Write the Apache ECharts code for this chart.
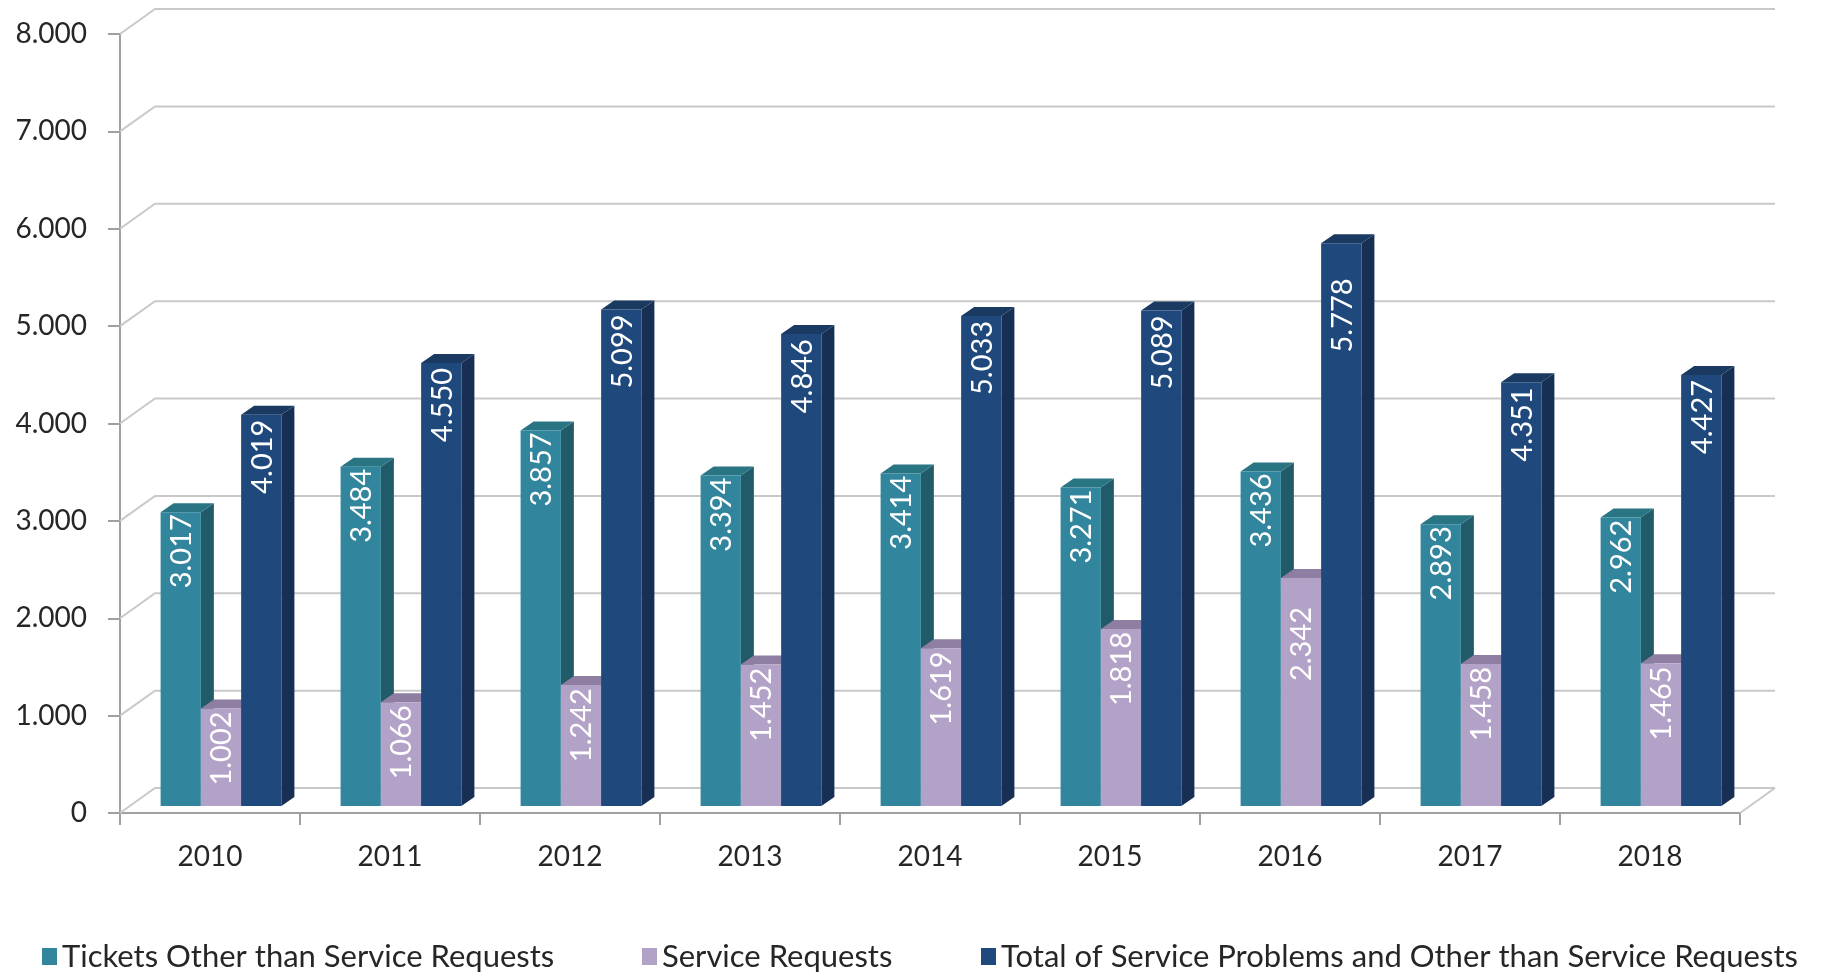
<!DOCTYPE html>
<html>
<head>
<meta charset="utf-8">
<script src="https://cdn.jsdelivr.net/npm/echarts@6/dist/echarts.min.js"></script>
<style>
html,body{margin:0;padding:0;background:#fff;}
#chart{width:1822px;height:974px;}
</style>
</head>
<body>
<div id="chart"></div>
<script>
// ---- data ----
const categories = ['2010','2011','2012','2013','2014','2015','2016','2017','2018'];
const seriesNames = ['Tickets Other than Service Requests','Service Requests','Total of Service Problems and Other than Service Requests'];
const ticketsOther = [3017, 3484, 3857, 3394, 3414, 3271, 3436, 2893, 2962];
const serviceRequests = [1002, 1066, 1242, 1452, 1619, 1818, 2342, 1458, 1465];
const totalProblems = [4019, 4550, 5099, 4846, 5033, 5089, 5778, 4351, 4427];
const yTicks = [0, 1000, 2000, 3000, 4000, 5000, 6000, 7000, 8000];

// ---- style ----
const FONT = 'Lato';
const WALL_DX = 35, WALL_DY = -25;     // depth of the back wall
const BAR_DX = 11, BAR_DY = -7;        // bars sit slightly behind the front plane
const BAR_DEPTH_X = 13, BAR_DEPTH_Y = -9;
const BAR_FRAC = 0.2237;               // bar width as fraction of category width
const palettes = [
  {front:'#31859C', side:'#215A68', top:'#2A7584', label:'#ffffff', pad:2},
  {front:'#B3A2C7', side:'#8A7A9E', top:'#8E7EA2', label:'#ffffff', pad:3},
  {front:'#1F497D', side:'#162F52', top:'#1A3A62', label:'#ffffff', pad:5}
];
// Excel placed the 2016 labels lower
const labelExtraShift = {1: {6: 26}, 2: {6: 30}};

function fmt(v){
  return String(v).replace(/\B(?=(\d{3})+(?!\d))/g, '.');
}

const chart = echarts.init(document.getElementById('chart'), null, {renderer:'canvas'});

function gridRender(params, api){
  const v = api.value(1);
  const p = api.coord([0, v]);
  const cs = params.coordSys;
  const x0 = cs.x, x1 = cs.x + cs.width, y = p[1];
  const style = {stroke:'#c9c9c9', lineWidth:2, fill:null};
  const children = [{
    type:'polyline',
    shape:{points:[[x0, y],[x0+WALL_DX, y+WALL_DY],[x1+WALL_DX, y+WALL_DY]]},
    style: style, silent:true
  }];
  if (v === 0){
    children.push({type:'line', shape:{x1:x1, y1:y, x2:x1+WALL_DX, y2:y+WALL_DY}, style:style, silent:true});
  }
  return {type:'group', children};
}

function makeBarRender(k){
  const pal = palettes[k];
  return function(params, api){
    const i = api.value(0), v = api.value(1);
    const base = api.coord([i, 0]);
    const top = api.coord([i, v]);
    const catW = api.size([1, 0])[0];
    const bw = catW * BAR_FRAC;
    const x0 = base[0] - 1.5*bw + BAR_DX + k*bw;
    const x1 = x0 + bw;
    const yb = base[1] + BAR_DY;
    const yt = top[1] + BAR_DY;
    const dx = BAR_DEPTH_X, dy = BAR_DEPTH_Y;
    const shift = (labelExtraShift[k] && labelExtraShift[k][i]) || 0;
    return {
      type:'group',
      children:[
        {type:'polygon', shape:{points:[[x1,yb],[x1+dx,yb+dy],[x1+dx,yt+dy],[x1,yt]]}, style:{fill:pal.side}},
        {type:'polygon', shape:{points:[[x0,yt],[x0+dx,yt+dy],[x1+dx,yt+dy],[x1,yt]]}, style:{fill:pal.top}},
        {type:'rect', shape:{x:x0, y:yt, width:bw, height:yb-yt}, style:{fill:pal.front}},
        {type:'text', x:(x0+x1)/2 + 1, y:yt + pal.pad + shift, rotation:Math.PI/2,
          style:{text:fmt(v), fill:pal.label, font:'29px ' + FONT, align:'right', verticalAlign:'middle'}}
      ]
    };
  };
}

const valueSets = [ticketsOther, serviceRequests, totalProblems];
const legendText = {fontFamily:FONT, fontSize:31, color:'#262626'};

const option = {
  backgroundColor:'#ffffff',
  animation:false,
  grid:{left:120, right:82, top:34, bottom:161, containLabel:false},
  legend:[
    {data:[seriesNames[0]], left:37, top:936, itemWidth:15, itemHeight:17, icon:'rect', textStyle:legendText},
    {data:[seriesNames[1]], left:637, top:936, itemWidth:15, itemHeight:17, icon:'rect', textStyle:legendText},
    {data:[seriesNames[2]], left:976, top:936, itemWidth:15, itemHeight:17, icon:'rect', textStyle:legendText}
  ],
  xAxis:{
    type:'category', data:categories, boundaryGap:true,
    axisLine:{show:true, lineStyle:{color:'#a0a0a0', width:2}},
    axisTick:{show:true, length:12, lineStyle:{color:'#a0a0a0', width:2}},
    axisLabel:{fontFamily:FONT, fontSize:28, color:'#262626', margin:30},
    splitLine:{show:false}
  },
  yAxis:{
    type:'value', min:0, max:8000, interval:1000,
    axisLine:{show:true, lineStyle:{color:'#a0a0a0', width:2}},
    axisTick:{show:true, length:12, lineStyle:{color:'#a0a0a0', width:2}},
    axisLabel:{fontFamily:FONT, fontSize:28, color:'#262626', margin:33, formatter:(v)=>fmt(v)},
    splitLine:{show:false}
  },
  series:[
    {type:'custom', name:'grid', renderItem:gridRender, data:yTicks.map(v=>[0, v]),
     encode:{x:0, y:1}, silent:true, z:1, legendHoverLink:false},
  ].concat(valueSets.map((vals, k)=>({
    type:'custom', name:seriesNames[k], renderItem:makeBarRender(k),
    data: categories.map((c, i)=>[i, vals[i]]),
    encode:{x:0, y:1}, z:2 + k,
    itemStyle:{color:palettes[k].front}
  })))
};
chart.setOption(option);
</script>
</body>
</html>
